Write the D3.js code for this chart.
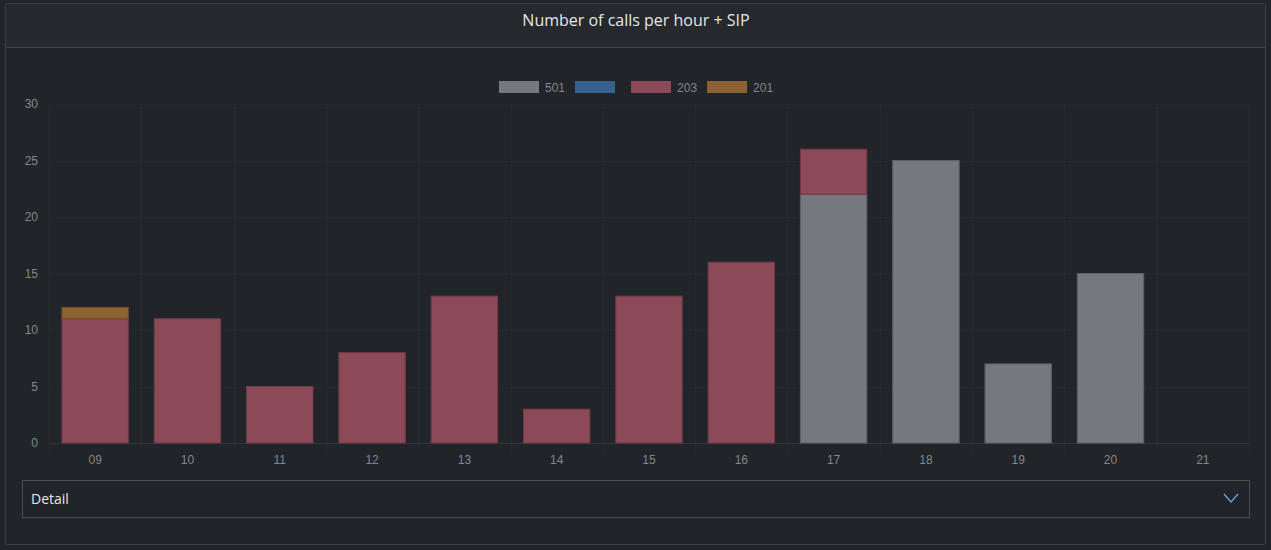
<!DOCTYPE html>
<html><head><meta charset="utf-8">
<script src="https://cdn.jsdelivr.net/npm/d3@7"></script>
<style>
html,body{margin:0;padding:0;background:#212428;}
svg{display:block;}
</style></head><body>
<svg id="c" width="1271" height="550"></svg>
<script>
const categories = ["09","10","11","12","13","14","15","16","17","18","19","20","21"];
const seriesNames = ["501", "", "203", "201"];
const s501 = [0,0,0,0,0,0,0,0,22,25,7,15,0];
const sBlue = [0,0,0,0,0,0,0,0,0,0,0,0,0];
const s203 = [11,11,5,8,13,3,13,16,4,0,0,0,0];
const s201 = [1,0,0,0,0,0,0,0,0,0,0,0,0];
const yTicks = [0,5,10,15,20,25,30];
const colors = ["#75787d","#36628e","#8c4a58","#8c6233"];
const borders = ["#5d6066","#2f5279","#6e3a46","#6e4d2a"];
const chartFont = "Liberation Sans, Arial, Helvetica, sans-serif";

const svg = d3.select("#c");
// panel
svg.append("rect").attr("x",5.5).attr("y",3.5).attr("width",1260).attr("height",541)
  .attr("rx",2).attr("fill","#212428").attr("stroke","#3d4045");
svg.append("rect").attr("x",6).attr("y",4).attr("width",1259).attr("height",43).attr("fill","#25282d");
svg.append("line").attr("x1",6).attr("x2",1265).attr("y1",47.5).attr("y2",47.5).attr("stroke","#42454a");
svg.append("text").attr("x",636).attr("y",26).attr("text-anchor","middle")
  .attr("font-family","Open Sans").attr("font-size",16).attr("fill","#e6e6e6")
  .text("Number of calls per hour + SIP");

const x = d3.scaleBand().domain(categories).range([49,1249]).paddingInner(0).paddingOuter(0);
const y = d3.scaleLinear().domain([0,30]).range([443,104]);
const g = svg.append("g");

// grid
const gridColor = "rgba(255,255,255,0.025)";
yTicks.forEach(t=>{
  g.append("line").attr("x1",49).attr("x2",1249).attr("y1",Math.round(y(t))+0.5).attr("y2",Math.round(y(t))+0.5)
    .attr("stroke",gridColor);
});
const bounds = categories.map(c=>x(c)).concat([x.range()[1]]);
bounds.forEach(b=>{
  g.append("line").attr("x1",Math.round(b)+0.5).attr("x2",Math.round(b)+0.5).attr("y1",104).attr("y2",453)
    .attr("stroke",gridColor);
});
g.append("line").attr("x1",49).attr("x2",1249).attr("y1",443.5).attr("y2",443.5).attr("stroke","rgba(255,255,255,0.06)");

// y labels
const yAxis = d3.axisLeft(y).tickValues(yTicks).tickSize(0).tickPadding(0);
const ya = g.append("g").attr("transform","translate(38,0)").call(yAxis);
ya.select(".domain").remove();
ya.selectAll("text").attr("font-family",chartFont).attr("font-size",12).attr("fill","#85878a");

// x labels
const xAxis = d3.axisBottom(x).tickSize(0).tickPadding(0);
const xa = g.append("g").attr("transform","translate(0,455)").call(xAxis);
xa.select(".domain").remove();
xa.selectAll("text").attr("font-family",chartFont).attr("font-size",12).attr("fill","#85878a").attr("dy","0.71em");

// stacked bars
const rows = categories.map((c,i)=>({cat:c, s0:s501[i], s1:sBlue[i], s2:s203[i], s3:s201[i]}));
const stack = d3.stack().keys(["s0","s1","s2","s3"])(rows);
const bw = x.bandwidth()*0.72;
stack.forEach((layer,li)=>{
  layer.forEach(d=>{
    const v = d[1]-d[0];
    if (v<=0) return;
    const cx = x(d.data.cat)+x.bandwidth()/2;
    g.append("rect").attr("x",cx-bw/2).attr("y",y(d[1])).attr("width",bw).attr("height",y(d[0])-y(d[1]))
      .attr("fill",colors[li]).attr("stroke",borders[li]).attr("stroke-width",1);
  });
});

// legend
const leg = svg.append("g");
let lx = 499;
seriesNames.forEach((n,i)=>{
  leg.append("rect").attr("x",lx).attr("y",81).attr("width",40).attr("height",12).attr("fill",colors[i]);
  const t = leg.append("text").attr("x",lx+46).attr("y",91.5).attr("font-family",chartFont).attr("font-size",12)
    .attr("fill","#85878a").text(n);
  const w = n ? t.node().getComputedTextLength() : 0;
  lx += 40 + 6 + w + 10;
});

// detail box
svg.append("rect").attr("x",22.5).attr("y",480.5).attr("width",1227).attr("height",37).attr("fill","none").attr("stroke","#4b4e53");
svg.append("text").attr("x",31).attr("y",504).attr("font-family","Open Sans").attr("font-size",14).attr("fill","#e6e6e6").text("Detail");
svg.append("path").attr("d","M1224,494 L1231,502 L1238,494").attr("fill","none").attr("stroke","#6e9fe0").attr("stroke-width",1.4);
</script>
</body></html>
